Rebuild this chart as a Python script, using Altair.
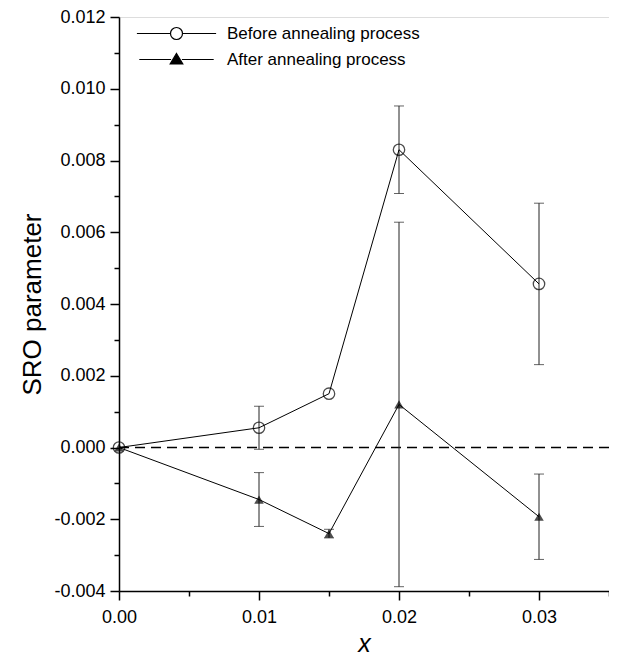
import altair as alt
import pandas as pd

# ---- data ----
x_vals = [0.0, 0.01, 0.015, 0.02, 0.03]
before_vals = [0.0, 0.00055, 0.0015, 0.0083, 0.00456]
before_err = [0.0, 0.0006, 0.0, 0.00122, 0.00225]
after_vals = [0.0, -0.00145, -0.0024, 0.0012, -0.00193]
after_err = [0.0, 0.00075, 0.00012, 0.00508, 0.00119]
series_names = ["Before annealing process", "After annealing process"]

y_major = [-0.004, -0.002, 0.0, 0.002, 0.004, 0.006, 0.008, 0.010, 0.012]
y_minor = [-0.003, -0.001, 0.001, 0.003, 0.005, 0.007, 0.009, 0.011]
x_major = [0.0, 0.01, 0.02, 0.03]
x_minor = [0.005, 0.015, 0.025, 0.035]

rows = []
for xv, v, e in zip(x_vals, before_vals, before_err):
    rows.append({"series": series_names[0], "x": xv, "y": v, "lo": v - e, "hi": v + e, "err": e})
for xv, v, e in zip(x_vals, after_vals, after_err):
    rows.append({"series": series_names[1], "x": xv, "y": v, "lo": v - e, "hi": v + e, "err": e})
df = pd.DataFrame(rows)
zero_df = pd.DataFrame({"y": [0.0]})

FONT = "Liberation Sans"
xscale = alt.Scale(domain=[0.0, 0.035], nice=False, zero=False)
yscale = alt.Scale(domain=[-0.004, 0.012], nice=False, zero=False)

neg_expr = "datum.value < 0 ? '-' + format(-datum.value, '.3f') : format(datum.value, '.3f')"

x_main_axis = alt.Axis(values=x_major, format=".2f", tickSize=9, tickColor="black", orient="bottom",
                       labelFont=FONT, labelFontSize=18, labelColor="black", labelPadding=8,
                       labelFlush=False, labelOverlap=False,
                       domainColor="black", domainWidth=1.5, tickWidth=1.5, grid=False,
                       title="x", titleFont=FONT, titleFontSize=25, titleFontStyle="italic",
                       titleFontWeight="normal", titleColor="black", titlePadding=5)
y_main_axis = alt.Axis(values=y_major, labelExpr=neg_expr, tickSize=9, tickColor="black", orient="left",
                       labelFont=FONT, labelFontSize=18, labelColor="black", labelPadding=5,
                       labelFlush=False, labelOverlap=False,
                       domainColor="black", domainWidth=1.5, tickWidth=1.5, grid=False,
                       title="SRO parameter", titleFont=FONT, titleFontSize=26,
                       titleFontWeight="normal", titleColor="black", titlePadding=8)
x_minor_axis = alt.Axis(values=x_minor, tickSize=5, tickColor="black", tickWidth=1.5,
                        labels=False, domain=False, grid=False, title=None, orient="bottom")
y_minor_axis = alt.Axis(values=y_minor, tickSize=5, tickColor="black", tickWidth=1.5,
                        labels=False, domain=False, grid=False, title=None, orient="left")

zero_line = alt.Chart(zero_df).mark_rule(color="black", strokeWidth=1.5, strokeDash=[10, 6]).encode(
    y=alt.Y("y:Q", scale=yscale, axis=y_main_axis)
)

minor_layer = alt.Chart(zero_df).mark_rule(opacity=0).encode(
    x=alt.X("y:Q", scale=xscale, axis=x_minor_axis),
    y=alt.Y("y:Q", scale=yscale, axis=y_minor_axis),
)

err = alt.Chart(df).transform_filter("datum.err > 0").mark_errorbar(
    ticks={"size": 10, "thickness": 1}, color="#222222", thickness=1
).encode(
    x=alt.X("x:Q", scale=xscale, axis=x_main_axis),
    y=alt.Y("lo:Q", scale=yscale, axis=None),
    y2="hi:Q",
)

lines = alt.Chart(df).mark_line(color="black", strokeWidth=1).encode(
    x=alt.X("x:Q", scale=xscale, axis=None),
    y=alt.Y("y:Q", scale=yscale, axis=None),
    detail="series:N",
)

pts_before = alt.Chart(df).transform_filter(
    alt.datum.series == series_names[0]
).mark_point(shape="circle", filled=False, color="black", size=130, strokeWidth=1.3).encode(
    x=alt.X("x:Q", scale=xscale, axis=None), y=alt.Y("y:Q", scale=yscale, axis=None)
)
pts_after = alt.Chart(df).transform_filter(
    alt.datum.series == series_names[1]
).mark_point(shape="triangle-up", filled=True, color="black", size=90).encode(
    x=alt.X("x:Q", scale=xscale, axis=None), y=alt.Y("y:Q", scale=yscale, axis=None)
)

# legend symbols: marker with line through (custom paths in unit space)
legend_paths = [
    "M-6.6,0H-1M1,0H6.6M-1,0A1,1,0,1,1,1,0A1,1,0,1,1,-1,0Z",
    "M-6.2,0H-0.9M0.9,0H6.2M0,-1L1.05,0.75L-1.05,0.75Z",
]


def make_legend():
    return alt.Legend(title=None, orient="none", legendX=49, legendY=8,
                      symbolSize=144, symbolStrokeColor="black",
                      symbolStrokeWidth=1.2, symbolOpacity=1,
                      labelFont=FONT, labelFontSize=17, labelColor="black", labelLimit=0,
                      labelOffset=42, rowPadding=8, padding=0)


legend_layer = alt.Chart(df).transform_filter("false").mark_point(strokeWidth=1.2).encode(
    x=alt.X("x:Q", scale=xscale, axis=None),
    y=alt.Y("y:Q", scale=yscale, axis=None),
    shape=alt.Shape("series:N", scale=alt.Scale(domain=series_names, range=legend_paths),
                    legend=make_legend()),
    fill=alt.Fill("series:N", scale=alt.Scale(domain=series_names, range=["white", "black"]),
                  legend=make_legend()),
    stroke=alt.Stroke("series:N", scale=alt.Scale(domain=series_names, range=["black", "black"]),
                      legend=make_legend()),
)

chart = alt.layer(
    zero_line, minor_layer, err, lines, pts_before, pts_after, legend_layer
).resolve_axis(x="independent", y="independent").properties(
    width=490, height=574,
    autosize=alt.AutoSizeParams(type="none"),
    padding={"left": 111, "top": 9, "right": 0, "bottom": 66},
).configure_view(stroke="black", strokeWidth=1.5).configure(background="white")

chart.save("out.html", embed_options={"renderer": "svg", "actions": False})
